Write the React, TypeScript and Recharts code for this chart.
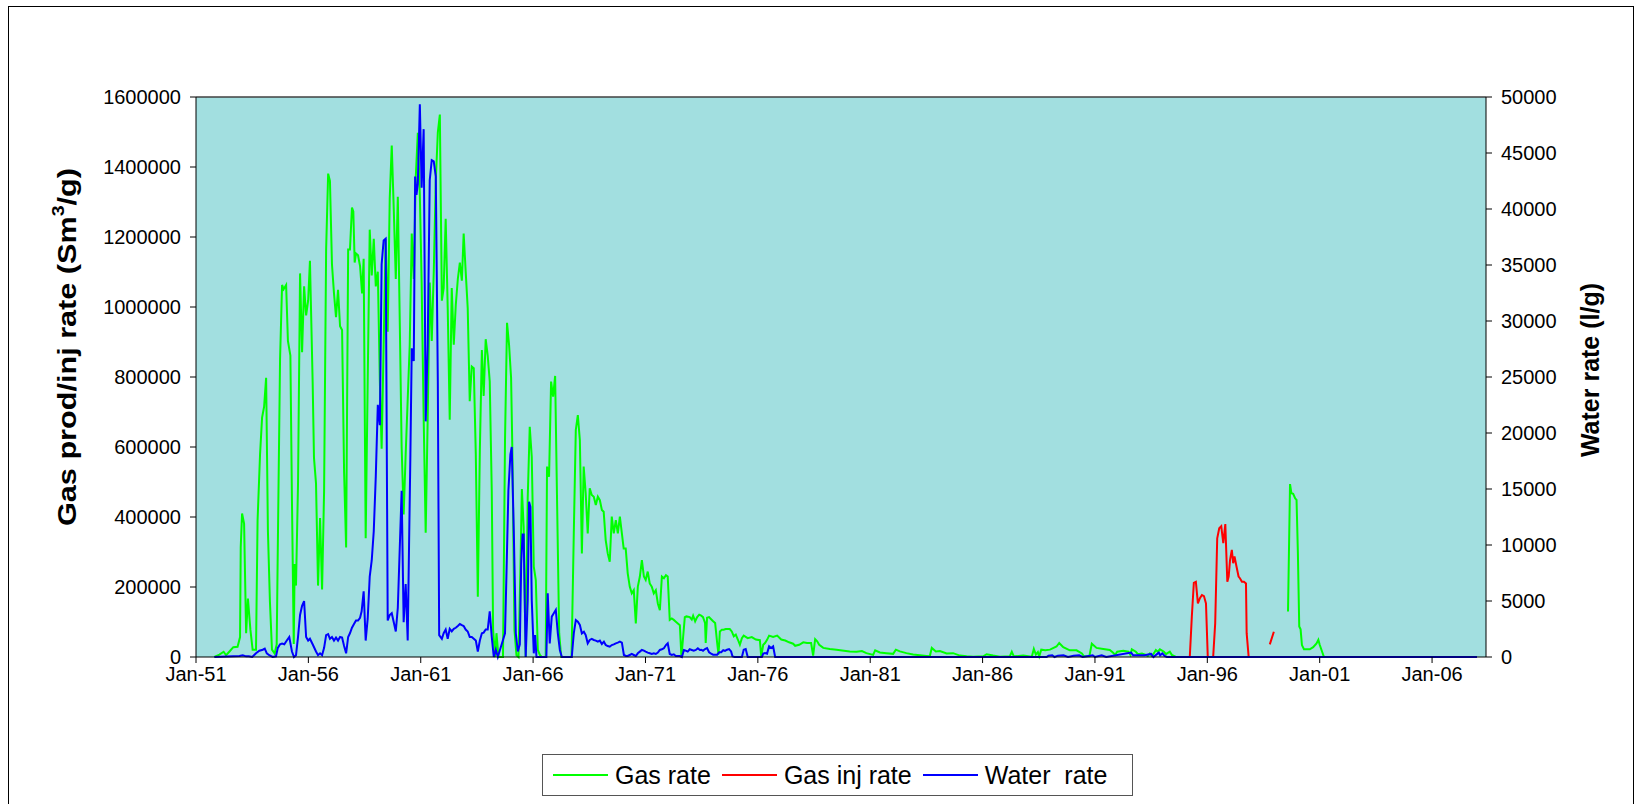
import { CartesianGrid, Line, LineChart, ReferenceLine, XAxis, YAxis } from "recharts"

type Pt = [number, number | null]

// gas production rate (Sm3/g), [year, value]
const gasRate50s: Pt[] = [
  [1951.82, 0], [1952.04, 7000], [1952.23, 15000], [1952.34, 5000], [1952.48, 15000], [1952.66, 28000],
  [1952.85, 29000], [1952.96, 57000], [1952.99, 313000], [1953.05, 410000], [1953.14, 381000], [1953.23, 68000],
  [1953.31, 167000], [1953.42, 78000], [1953.52, 21000], [1953.67, 21000], [1953.74, 391000], [1953.85, 579000],
  [1953.94, 684000], [1954.03, 715000], [1954.12, 798000], [1954.2, 360000], [1954.29, 157000], [1954.38, 21000],
  [1954.5, 10000], [1954.59, 36000], [1954.66, 423000], [1954.74, 851000], [1954.83, 1063000], [1954.9, 1051000],
  [1955.01, 1063000], [1955.09, 903000], [1955.2, 861000], [1955.27, 444000], [1955.35, 37000], [1955.39, 266000],
  [1955.45, 204000], [1955.54, 496000], [1955.63, 1096000], [1955.72, 871000], [1955.81, 1059000], [1955.9, 976000],
  [1955.99, 1018000], [1956.07, 1132000], [1956.19, 788000], [1956.25, 569000], [1956.34, 496000], [1956.43, 204000],
  [1956.52, 397000], [1956.61, 193000], [1956.7, 475000], [1956.79, 1164000], [1956.88, 1381000], [1956.96, 1360000],
  [1957.05, 1122000], [1957.14, 1039000], [1957.23, 971000], [1957.32, 1049000], [1957.41, 945000], [1957.5, 934000],
  [1957.59, 527000], [1957.68, 313000], [1957.77, 1164000], [1957.85, 1164000], [1957.94, 1284000], [1958.0, 1273000],
  [1958.06, 1127000], [1958.12, 1153000], [1958.21, 1148000], [1958.3, 1117000], [1958.39, 1039000], [1958.46, 1138000],
  [1958.55, 339000], [1958.64, 788000], [1958.73, 1221000], [1958.82, 1090000], [1958.91, 1195000], [1959.0, 1059000],
  [1959.09, 1101000], [1959.18, 788000], [1959.26, 595000], [1959.35, 892000], [1959.44, 1195000], [1959.53, 929000],
  [1959.62, 1310000], [1959.71, 1461000], [1959.8, 1279000], [1959.89, 1080000], [1959.98, 1315000],
]

const gasRate60s: Pt[] = [
  [1960.07, 945000], [1960.15, 600000], [1960.24, 407000], [1960.33, 580000], [1960.42, 736000], [1960.51, 892000],
  [1960.6, 1210000], [1960.69, 1080000], [1960.78, 1372000], [1960.87, 1498000], [1960.96, 1320000], [1961.04, 1070000],
  [1961.13, 684000], [1961.22, 355000], [1961.31, 684000], [1961.4, 1070000], [1961.49, 903000], [1961.58, 1101000],
  [1961.67, 1362000], [1961.76, 1498000], [1961.85, 1550000], [1961.94, 1018000], [1962.02, 1054000], [1962.11, 1252000],
  [1962.2, 997000], [1962.29, 678000], [1962.38, 1054000], [1962.47, 892000], [1962.56, 1007000], [1962.65, 1080000],
  [1962.74, 1127000], [1962.83, 1075000], [1962.91, 1210000], [1963.0, 1101000], [1963.09, 997000], [1963.18, 731000],
  [1963.27, 830000], [1963.36, 825000], [1963.45, 579000], [1963.54, 172000], [1963.63, 590000], [1963.72, 877000],
  [1963.8, 746000], [1963.89, 908000], [1963.98, 861000], [1964.07, 788000], [1964.16, 475000], [1964.22, 78000],
  [1964.31, 0], [1964.37, 68000], [1964.46, 0], [1964.66, 0], [1964.75, 621000], [1964.84, 955000],
  [1964.93, 892000], [1965.02, 798000], [1965.08, 579000], [1965.17, 78000], [1965.26, 5000], [1965.35, 0],
  [1965.44, 266000], [1965.5, 480000], [1965.58, 371000], [1965.67, 0], [1965.76, 454000], [1965.85, 658000],
  [1965.94, 572000], [1966.03, 258000], [1966.12, 220000], [1966.21, 20000], [1966.3, 6000], [1966.38, 0],
  [1966.56, 0], [1966.62, 544000], [1966.71, 515000], [1966.8, 787000], [1966.89, 744000], [1966.98, 803000],
  [1967.07, 430000], [1967.16, 68000], [1967.25, 0], [1967.71, 0], [1967.81, 353000], [1967.9, 649000],
  [1967.99, 691000], [1968.08, 620000], [1968.17, 296000], [1968.25, 544000], [1968.34, 468000], [1968.43, 353000],
  [1968.52, 482000], [1968.61, 463000], [1968.7, 458000], [1968.79, 434000], [1968.88, 458000], [1968.97, 448000],
  [1969.06, 420000], [1969.14, 415000], [1969.23, 334000], [1969.32, 296000], [1969.41, 272000], [1969.5, 401000],
  [1969.59, 353000], [1969.68, 391000], [1969.77, 353000], [1969.86, 401000], [1969.95, 353000],
]

const gasRate70s: Pt[] = [
  [1970.03, 310000], [1970.12, 310000], [1970.21, 239000], [1970.3, 201000], [1970.39, 182000], [1970.48, 191000],
  [1970.57, 96000], [1970.66, 201000], [1970.75, 230000], [1970.84, 277000], [1970.93, 230000], [1971.01, 220000],
  [1971.1, 244000], [1971.19, 210000], [1971.28, 201000], [1971.37, 182000], [1971.46, 191000], [1971.55, 153000],
  [1971.64, 134000], [1971.73, 230000], [1971.82, 225000], [1971.91, 234000], [1971.99, 230000], [1972.08, 106000],
  [1972.17, 110000], [1972.26, 106000], [1972.35, 101000], [1972.53, 91000], [1972.6, 0], [1972.75, 114000],
  [1972.82, 116000], [1972.97, 114000], [1973.06, 107000], [1973.12, 118000], [1973.21, 102000], [1973.3, 114000],
  [1973.39, 121000], [1973.48, 118000], [1973.56, 114000], [1973.65, 97000], [1973.68, 40000], [1973.74, 112000],
  [1973.83, 114000], [1973.92, 108000], [1974.01, 102000], [1974.1, 97000], [1974.19, 40000], [1974.25, 7000],
  [1974.31, 73000], [1974.4, 78000], [1974.48, 78000], [1974.57, 80000], [1974.75, 80000], [1974.84, 73000],
  [1974.93, 59000], [1975.02, 64000], [1975.11, 50000], [1975.2, 35000], [1975.29, 54000], [1975.37, 61000],
  [1975.55, 54000], [1975.73, 57000], [1975.91, 50000], [1976.09, 48000], [1976.15, 2000], [1976.24, 35000],
  [1976.32, 40000], [1976.41, 49000], [1976.5, 61000], [1976.68, 57000], [1976.86, 61000], [1977.04, 50000],
  [1977.22, 47000], [1977.39, 42000], [1977.57, 38000], [1977.66, 32000], [1977.84, 35000], [1978.02, 42000],
  [1978.19, 40000], [1978.37, 40000], [1978.46, 4000], [1978.55, 51000], [1978.64, 45000], [1978.73, 35000],
  [1978.91, 26000], [1979.2, 23000], [1979.5, 21000], [1979.83, 18000],
]

const gasRate80s: Pt[] = [
  [1980.09, 16000], [1980.39, 15000], [1980.63, 17000], [1980.83, 11000], [1981.13, 6000], [1981.22, 19000],
  [1981.43, 13000], [1981.72, 11000], [1982.02, 9000], [1982.14, 21000], [1982.32, 16000], [1982.61, 11000],
  [1982.91, 7000], [1983.21, 5000], [1983.5, 3000], [1983.65, 2000], [1983.74, 26000], [1983.92, 16000],
  [1984.1, 17000], [1984.4, 10000], [1984.69, 11000], [1984.99, 4000], [1985.29, 2000], [1985.58, 1000],
  [1986.03, 2000], [1986.18, 8000], [1986.47, 4000], [1986.77, 1000], [1987.21, 2000], [1987.3, 15000],
  [1987.39, 2000], [1987.81, 4000], [1988.19, 1000], [1988.28, 23000], [1988.37, 7000], [1988.46, 14000],
  [1988.52, 2000], [1988.61, 21000], [1988.79, 19000], [1989.0, 21000], [1989.29, 30000], [1989.41, 40000],
  [1989.59, 28000], [1989.88, 19000],
]

const gasRate90s: Pt[] = [
  [1990.18, 19000], [1990.42, 10000], [1990.51, 2000], [1990.75, 2000], [1990.86, 38000], [1991.07, 26000],
  [1991.37, 23000], [1991.66, 20000], [1991.81, 12000], [1991.9, 6000], [1991.99, 15000], [1992.26, 18000],
  [1992.49, 15000], [1992.58, 6000], [1992.64, 22000], [1992.82, 15000], [1992.91, 8000], [1993.09, 10000],
  [1993.27, 6000], [1993.35, 3000], [1993.44, 10000], [1993.53, 3000], [1993.62, 10000], [1993.71, 20000],
  [1993.8, 15000], [1993.89, 22000], [1994.07, 15000], [1994.16, 8000], [1994.33, 15000], [1994.42, 6000],
  [1994.51, 3000], [1994.6, 0], [1999.0, 0], [1999.3, null],
  [1999.59, 130000], [1999.68, 494000], [1999.74, 468000], [1999.82, 466000], [1999.91, 453000], [1999.97, 449000],
  [2000.03, 296000], [2000.09, 87000], [2000.15, 79000], [2000.21, 34000], [2000.3, 22000], [2000.56, 22000],
  [2000.71, 28000], [2000.86, 39000], [2000.94, 49000], [2001.0, 35000], [2001.19, 0], [2008.0, 0],
]

// gas injection rate (Sm3/g)
const gasInjRate: Pt[] = [
  [1995.22, 0], [1995.31, 115000], [1995.4, 212000], [1995.49, 215000], [1995.58, 153000], [1995.67, 168000],
  [1995.76, 177000], [1995.85, 174000], [1995.94, 153000], [1996.02, 0], [1996.26, 0], [1996.35, 96000],
  [1996.44, 339000], [1996.53, 368000], [1996.62, 374000], [1996.71, 325000], [1996.8, 380000], [1996.89, 215000],
  [1996.95, 230000], [1997.01, 277000], [1997.09, 306000], [1997.15, 268000], [1997.21, 287000], [1997.3, 258000],
  [1997.39, 230000], [1997.45, 225000], [1997.54, 215000], [1997.63, 215000], [1997.72, 210000], [1997.75, 68000],
  [1997.84, 0], [1998.3, null], [1998.78, 36000], [1998.96, 72000],
]

// water rate (l/g)
const waterRate50s: Pt[] = [
  [1951.82, 0], [1952.93, 100], [1953.08, 160], [1953.23, 60], [1953.35, 70], [1953.5, 0], [1953.67, 330],
  [1953.82, 560], [1953.97, 650], [1954.06, 750], [1954.15, 330], [1954.26, 160], [1954.41, 0], [1954.56, 60],
  [1954.64, 815], [1954.74, 1140], [1954.83, 1210], [1954.93, 1140], [1955.04, 1470], [1955.15, 1790], [1955.27, 490],
  [1955.36, 0], [1955.45, 160], [1955.54, 1790], [1955.63, 3750], [1955.72, 4570], [1955.81, 4990], [1955.9, 1790],
  [1955.99, 1470], [1956.07, 1630], [1956.19, 1140], [1956.34, 490], [1956.43, 160], [1956.52, 330], [1956.61, 160],
  [1956.7, 815], [1956.79, 1960], [1956.88, 2050], [1956.96, 1630], [1957.05, 1790], [1957.14, 1470], [1957.23, 1730],
  [1957.32, 1470], [1957.41, 1790], [1957.5, 1730], [1957.59, 980], [1957.68, 330], [1957.77, 1790], [1957.85, 2120],
  [1957.94, 2610], [1958.03, 2940], [1958.12, 3260], [1958.21, 3260], [1958.3, 3500], [1958.37, 4080], [1958.46, 5870],
  [1958.55, 1470], [1958.64, 3420], [1958.73, 7180], [1958.82, 8640], [1958.91, 11250], [1959.0, 16150],
  [1959.09, 22510], [1959.18, 20700], [1959.26, 35070], [1959.35, 37190], [1959.44, 37350], [1959.53, 3260],
  [1959.62, 3750], [1959.71, 3910], [1959.8, 3100], [1959.89, 2280], [1959.98, 4400],
]

const waterRate60s: Pt[] = [
  [1960.07, 9950], [1960.15, 14840], [1960.24, 3100], [1960.33, 6520], [1960.42, 1470], [1960.48, 9950],
  [1960.54, 18100], [1960.6, 27560], [1960.69, 26420], [1960.75, 42890], [1960.81, 41260], [1960.87, 42240],
  [1960.96, 49350], [1961.04, 41910], [1961.13, 47130], [1961.22, 21040], [1961.31, 27890], [1961.4, 42570],
  [1961.49, 44360], [1961.58, 44260], [1961.67, 42890], [1961.76, 24630], [1961.82, 1960], [1961.94, 1630],
  [1962.02, 2120], [1962.11, 2450], [1962.2, 1630], [1962.29, 2510], [1962.38, 2280], [1962.47, 2510],
  [1962.56, 2610], [1962.65, 2770], [1962.74, 2940], [1962.83, 2840], [1962.91, 2770], [1963.0, 2450],
  [1963.09, 2280], [1963.18, 1790], [1963.27, 1790], [1963.36, 1630], [1963.45, 1470], [1963.54, 490],
  [1963.63, 1470], [1963.72, 2120], [1963.8, 2180], [1963.89, 2450], [1963.98, 2450], [1964.07, 4080],
  [1964.16, 1790], [1964.25, 0], [1964.34, 650], [1964.43, 0], [1964.75, 2120], [1964.81, 7010],
  [1964.9, 14840], [1964.99, 18100], [1965.05, 18750], [1965.14, 11250], [1965.23, 2120], [1965.32, 490],
  [1965.41, 1140], [1965.47, 8320], [1965.53, 10930], [1965.58, 10930], [1965.67, 0], [1965.76, 5060],
  [1965.82, 13860], [1965.88, 13400], [1965.94, 5060], [1966.03, 330], [1966.09, 1960], [1966.15, 0],
  [1966.59, 0], [1966.65, 5680], [1966.74, 1220], [1966.83, 3600], [1966.92, 3900], [1967.01, 4200],
  [1967.1, 2110], [1967.19, 630], [1967.28, 0], [1967.72, 0], [1967.81, 2110], [1967.9, 3300],
  [1967.99, 3150], [1968.08, 2860], [1968.17, 2110], [1968.26, 2260], [1968.34, 1960], [1968.43, 1220],
  [1968.52, 1520], [1968.61, 1610], [1968.7, 1520], [1968.79, 1460], [1968.88, 1370], [1968.97, 1460],
  [1969.06, 1160], [1969.15, 1370], [1969.23, 1070], [1969.32, 980], [1969.41, 920], [1969.5, 1070],
  [1969.59, 1130], [1969.68, 1220], [1969.77, 1280], [1969.86, 1370], [1969.95, 1280],
]

const waterRateLate: Pt[] = [
  [1970.04, 180], [1970.13, 90], [1970.21, 90], [1970.3, 180], [1970.39, 270], [1970.48, 180], [1970.57, 90],
  [1970.66, 330], [1970.75, 480], [1970.84, 630], [1970.93, 570], [1971.01, 480], [1971.1, 390], [1971.19, 330],
  [1971.28, 270], [1971.37, 330], [1971.46, 270], [1971.55, 390], [1971.64, 630], [1971.73, 690], [1971.82, 780],
  [1971.91, 1070], [1971.99, 1220], [1972.08, 270], [1972.17, 180], [1972.26, 240], [1972.35, 90], [1972.53, 90],
  [1972.62, 0], [1972.71, 630], [1972.79, 570], [1972.88, 480], [1972.97, 690], [1973.06, 630], [1973.15, 570],
  [1973.24, 630], [1973.33, 780], [1973.42, 630], [1973.48, 650], [1973.56, 560], [1973.65, 710], [1973.74, 800],
  [1973.83, 420], [1973.92, 300], [1974.01, 210], [1974.19, 210], [1974.28, 420], [1974.37, 420], [1974.46, 600],
  [1974.54, 540], [1974.63, 650], [1974.72, 710], [1974.81, 500], [1974.87, 60], [1974.96, 0], [1975.29, 0],
  [1975.37, 650], [1975.46, 710], [1975.55, 0], [1976.18, 0], [1976.24, 300], [1976.32, 360], [1976.41, 300],
  [1976.5, 950], [1976.59, 800], [1976.68, 950], [1976.77, 0], [1988.85, 0], [1988.93, 120], [1989.1, 150],
  [1989.2, 0], [1989.35, 120], [1989.6, 150], [1989.8, 0], [1990.05, 120], [1990.3, 150], [1990.45, 0],
  [1990.9, 150], [1991.0, 0], [1991.3, 150], [1991.5, 0], [1992.61, 390], [1992.7, 150], [1993.2, 150],
  [1993.5, 270], [1993.6, 0], [1993.84, 390], [1993.9, 150], [1994.0, 330], [1994.1, 100], [1994.2, 0],
  [2008.0, 0],
]

const xTicks = [1951, 1956, 1961, 1966, 1971, 1976, 1981, 1986, 1991, 1996, 2001, 2006]
const xTickLabels = ["Jan-51", "Jan-56", "Jan-61", "Jan-66", "Jan-71", "Jan-76", "Jan-81", "Jan-86", "Jan-91", "Jan-96", "Jan-01", "Jan-06"]
const gasTicks = [0, 200000, 400000, 600000, 800000, 1000000, 1200000, 1400000, 1600000]
const waterTicks = [0, 5000, 10000, 15000, 20000, 25000, 30000, 35000, 40000, 45000, 50000]

const toRows = (pts: Pt[]) => pts.map(([t, v]) => ({ t, v }))
const gasData = toRows([...gasRate50s, ...gasRate60s, ...gasRate70s, ...gasRate80s, ...gasRate90s])
const gasInjData = toRows(gasInjRate)
const waterData = toRows([...waterRate50s, ...waterRate60s, ...waterRateLate])

const FONT = "'Liberation Sans', Arial, sans-serif"
const tickStyle = { fontSize: 20, fill: "#000", fontFamily: FONT }

function LeftTitle() {
  return (
    <text
      x={67}
      y={347}
      transform="rotate(-90, 67, 347)"
      textAnchor="middle"
      dominantBaseline="central"
      fontSize={25}
      fontWeight="bold"
      fontFamily={FONT}
      fill="#000"
      textLength={358}
      lengthAdjust="spacingAndGlyphs"
    >
      Gas prod/inj rate (Sm
      <tspan fontSize={16} dy={-9}>3</tspan>
      <tspan dy={9}>/g)</tspan>
    </text>
  )
}

function RightTitle() {
  return (
    <text
      x={1590}
      y={370}
      transform="rotate(-90, 1590, 370)"
      textAnchor="middle"
      dominantBaseline="central"
      fontSize={25}
      fontWeight="bold"
      fontFamily={FONT}
      fill="#000"
    >
      Water rate (l/g)
    </text>
  )
}

const legendItems = [
  { name: "Gas rate", color: "#00ff00" },
  { name: "Gas inj rate", color: "#ff0000" },
  { name: "Water  rate", color: "#0000ff" },
]

export default function App() {
  return (
    <div style={{ position: "absolute", left: 0, top: 0, width: 1637, height: 804, overflow: "hidden", background: "#fff" }}>
      <div style={{ position: "absolute", left: 8, top: 6, width: 1626, height: 820, border: "1px solid #000", boxSizing: "border-box" }} />
      <LineChart width={1637} height={804} margin={{ top: 97, right: 31, bottom: 107, left: 0 }} style={{ position: "absolute", left: 0, top: 0 }}>
        <CartesianGrid yAxisId="left" fill="#a2dfe0" horizontal={false} vertical={false} />
        <XAxis
          dataKey="t"
          type="number"
          domain={[1951, 2008.4]}
          ticks={xTicks}
          tickFormatter={(v: number) => xTickLabels[xTicks.indexOf(v)] ?? ""}
          allowDataOverflow
          height={40}
          tick={tickStyle}
          tickSize={6}
          tickMargin={4}
          stroke="#000"
          interval={0}
        />
        <YAxis
          yAxisId="left"
          domain={[0, 1600000]}
          ticks={gasTicks}
          width={196}
          tick={tickStyle}
          tickSize={6}
          tickMargin={9}
          stroke="#000"
          interval={0}
          label={<LeftTitle />}
        />
        <YAxis
          yAxisId="right"
          orientation="right"
          domain={[0, 50000]}
          ticks={waterTicks}
          width={120}
          tick={{ ...tickStyle, textAnchor: "start" }}
          tickSize={6}
          tickMargin={9}
          stroke="#000"
          interval={0}
          label={<RightTitle />}
        />
        <ReferenceLine yAxisId="left" y={1600000} stroke="#404040" strokeWidth={1.5} />
        <Line
          yAxisId="left"
          data={gasData}
          dataKey="v"
          name="Gas rate"
          type="linear"
          stroke="#00ff00"
          strokeWidth={2}
          dot={false}
          connectNulls={false}
          isAnimationActive={false}
        />
        <Line
          yAxisId="left"
          data={gasInjData}
          dataKey="v"
          name="Gas inj rate"
          type="linear"
          stroke="#ff0000"
          strokeWidth={2}
          dot={false}
          connectNulls={false}
          isAnimationActive={false}
        />
        <Line
          yAxisId="right"
          data={waterData}
          dataKey="v"
          name="Water  rate"
          type="linear"
          stroke="#0000ff"
          strokeWidth={2}
          dot={false}
          connectNulls={false}
          isAnimationActive={false}
        />
      </LineChart>
      <div
        style={{
          position: "absolute",
          left: 542,
          top: 754,
          width: 591,
          height: 42,
          border: "1px solid #555",
          boxSizing: "border-box",
          display: "flex",
          alignItems: "center",
          paddingLeft: 10,
          fontFamily: FONT,
          fontSize: 25,
          color: "#000",
          whiteSpace: "pre",
        }}
      >
        {legendItems.map((it) => (
          <div key={it.name} style={{ display: "flex", alignItems: "center", marginRight: 11 }}>
            <div style={{ width: 55, height: 2, background: it.color, marginRight: 7 }} />
            <span>{it.name}</span>
          </div>
        ))}
      </div>
    </div>
  )
}
